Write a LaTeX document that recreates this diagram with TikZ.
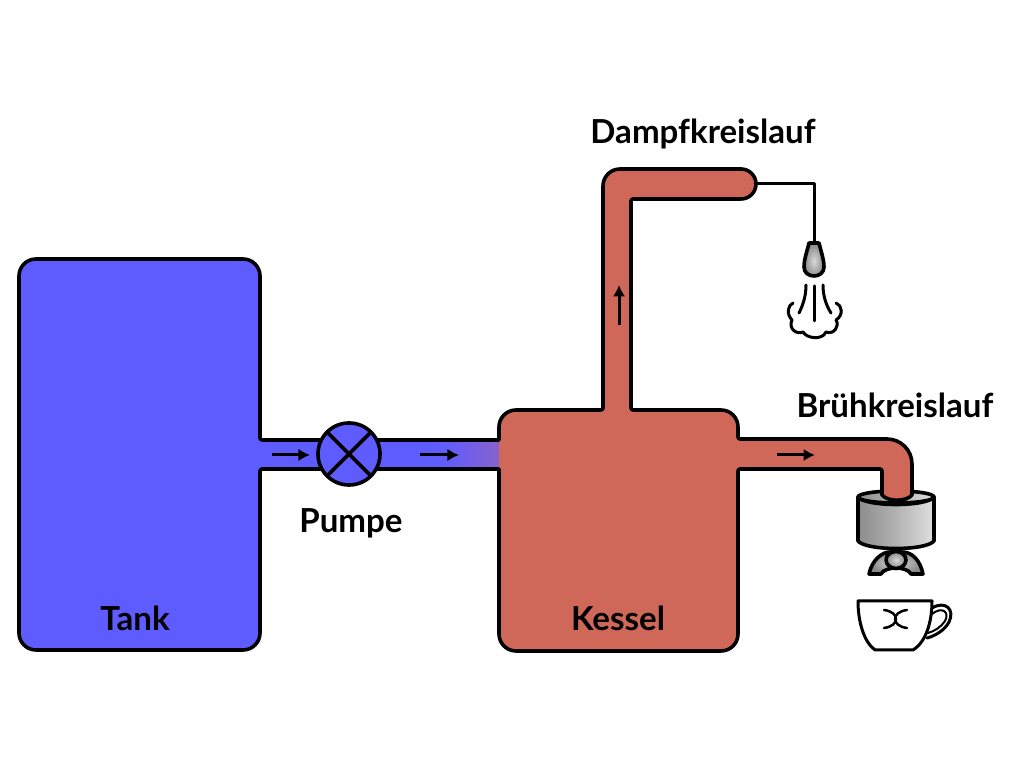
\documentclass[tikz,border=0pt]{standalone}
\usepackage{fontspec}
\setmainfont[Ligatures=NoCommon]{Lato}
\usetikzlibrary{arrows.meta}
\definecolor{tankblue}{RGB}{95,92,255}
\definecolor{kesselred}{RGB}{208,104,90}
\definecolor{mixviolet}{RGB}{135,98,205}
\tikzset{
  outline/.style={line width=0.036cm, line join=round, line cap=round},
  thinline/.style={line width=0.03cm, line join=round, line cap=round},
  flowarrow/.style={line width=0.03cm, -{Latex[length=0.115cm,width=0.125cm]}},
  label/.style={font=\fontsize{9.4pt}{11pt}\selectfont\bfseries},
  metal/.style={outline, draw=black, left color=gray!90, right color=gray!25, middle color=gray!60},
  darkmetal/.style={outline, draw=black, inner color=gray!30, outer color=gray!95},
}
\begin{document}
\begin{tikzpicture}[x=0.01cm, y=-0.01cm]
  \useasboundingbox (0,0) rectangle (1024,768);
  % Tank with pipe to the boiler
  \draw[outline, fill=tankblue] (499,440) [rounded corners=0.02cm] -- (260,440) [rounded corners=0.17cm] -- (260,259) -- (19,259) -- (19,650) -- (260,650) [rounded corners=0.02cm] -- (260,469) [sharp corners] -- (499,469);
  \shade[left color=tankblue, right color=mixviolet] (440,440) rectangle (501,469);
  \draw[outline] (440,440) -- (499,440) (440,469) -- (499,469);
  % Group head under the brew pipe
  \draw[darkmetal] (869,574) .. controls (872,560) and (882,552) .. (890,552) -- (902,552) .. controls (912,552) and (920,560) .. (923,574) -- (911,574) .. controls (907,566) and (885,566) .. (881,574) -- cycle;
  \draw[darkmetal] (896,560) ellipse (10 and 8.5);
  \draw[metal] (858,497) -- (858,541) .. controls (866,551) and (926,551) .. (934,541) -- (934,497) .. controls (926,507) and (866,507) .. (858,497) -- cycle;
  \draw[metal] (896,497) ellipse (38 and 6);
  % Boiler with both circuits
  \draw[outline, fill=kesselred] (499,469) [rounded corners=0.17cm] -- (499,651) -- (738,651) [rounded corners=0.02cm] -- (738,469) -- (882,469) [sharp corners] -- (882,495) .. controls (888,502) and (906,502) .. (912,495) [rounded corners=0.25cm] -- (912,439) [rounded corners=0.02cm] -- (738,439) [rounded corners=0.17cm] -- (738,410) [rounded corners=0.02cm] -- (631,410) -- (631,199) [sharp corners] -- (741,199) arc (90:-90:15) [rounded corners=0.17cm] -- (603,169) [rounded corners=0.02cm] -- (603,410) [rounded corners=0.17cm] -- (499,410) [sharp corners] -- (499,440);
  % Pump
  \node[circle, outline, draw, fill=tankblue, inner sep=0pt, outer sep=0pt, minimum size=0.62cm] (pump) at (349,454) {};
  \draw[outline] (pump.45) -- (pump.225) (pump.135) -- (pump.315);
  % Flow arrows
  \foreach \xa/\ya/\xb/\yb in {272/455/310/455, 420/455/459/455, 777/455/815/455, 619/325/619/285} {\draw[flowarrow] (\xa,\ya) -- (\xb,\yb);}
  % Steam wand and steam
  \draw[thinline] (755,184) -- (814,184) -- (814,243);
  \draw[darkmetal] (809,243) -- (819,243) .. controls (822,255) and (824,260) .. (824,267) .. controls (824,279) and (804,279) .. (804,267) .. controls (804,260) and (806,255) .. (809,243) -- cycle;
  \draw[thinline] (814,286) -- (814,321);
  \draw[thinline] (806,285) .. controls (806,296) and (803,305) .. (799,313);
  \draw[thinline] (823,285) .. controls (823,296) and (826,305) .. (831,313);
  \draw[thinline] (793,303) .. controls (788,305) and (786,314) .. (792,320) .. controls (788,328) and (796,335) .. (803,332) .. controls (806,338) and (822,341) .. (826,332) .. controls (834,335) and (840,326) .. (836,320) .. controls (844,315) and (842,305) .. (836,303);
  % Cup
  \draw[thinline] (858,601) -- (932,601) .. controls (932,622) and (926,642) .. (913,650) -- (875,650) .. controls (864,642) and (858,622) .. (858,601) -- cycle;
  \draw[thinline] (932,608) .. controls (946,600) and (955,610) .. (949,622) .. controls (945,630) and (935,636) .. (927,638);
  \draw[thinline, line width=0.02cm] (932,614) .. controls (942,606) and (950,612) .. (945,621) .. controls (941,627) and (935,631) .. (928,633);
  \draw[thinline, line width=0.025cm] (884,610) .. controls (900,612) and (900,626) .. (884,628);
  \draw[thinline, line width=0.025cm] (907,610) .. controls (891,612) and (891,626) .. (907,628);
  % Labels
  \node[label] (tanklabel) at (135,618) {Tank};
  \node[label] (kessellabel) at (618,618) {Kessel};
  \node[label] (pumplabel) at (351,523) {Pumpe};
  \node[label] (steamlabel) at (703,134) {Dampfkreislauf};
  \node[label] (brewlabel) at (895,405) {Brühkreislauf};
\end{tikzpicture}
\end{document}
